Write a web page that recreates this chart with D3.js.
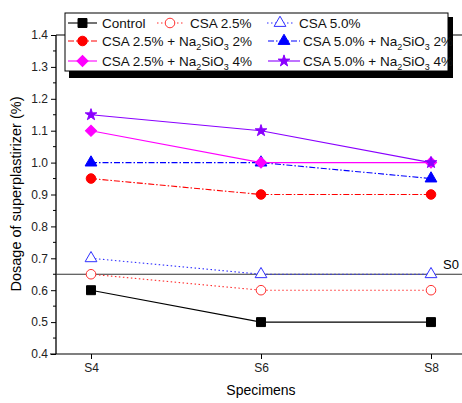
<!DOCTYPE html>
<html><head><meta charset="utf-8">
<script src="https://cdn.jsdelivr.net/npm/d3@7"></script>
<style>body{margin:0;background:#fff}svg{display:block;font-family:Arial,"Liberation Sans",sans-serif}</style>
</head><body><svg id="c" width="462" height="403"></svg>
<script>
const specimens = ["S4","S6","S8"];
const control = [0.6,0.5,0.5];
const csa25 = [0.65,0.6,0.6];
const csa50 = [0.7,0.65,0.65];
const csa25na2 = [0.95,0.9,0.9];
const csa50na2 = [1.0,1.0,0.95];
const csa25na4 = [1.1,1.0,1.0];
const csa50na4 = [1.15,1.1,1.0];
const s0Value = 0.65;
const yTicks = [0.4,0.5,0.6,0.7,0.8,0.9,1.0,1.1,1.2,1.3,1.4];

const series = [
 {name:"Control", vals:control, color:"#000", dash:null, sym:"square", fill:true},
 {name:"CSA 2.5%", vals:csa25, color:"#ff3030", dash:"1.5,2.5", sym:"circle", fill:false},
 {name:"CSA 5.0%", vals:csa50, color:"#3030ff", dash:"1.5,2.5", sym:"triangle", fill:false},
 {name:"CSA 2.5% + Na2SiO3 2%", vals:csa25na2, color:"#ff0000", dash:"6,2,1.5,2", sym:"circle", fill:true},
 {name:"CSA 5.0% + Na2SiO3 2%", vals:csa50na2, color:"#0000ff", dash:"6,2,1.5,2", sym:"triangle", fill:true},
 {name:"CSA 2.5% + Na2SiO3 4%", vals:csa25na4, color:"#ff00ff", dash:null, sym:"diamond", fill:true},
 {name:"CSA 5.0% + Na2SiO3 4%", vals:csa50na4, color:"#8a00ff", dash:null, sym:"star", fill:true}
];

const svg = d3.select("#c");
const pL=56, pR=466, pT=35, pB=354;
const x = d3.scalePoint().domain(specimens).range([91,431]);
const y = d3.scaleLinear().domain([0.4,1.4]).range([pB,pT]);

// frame
svg.append("line").attr("x1",pL).attr("x2",pR).attr("y1",pT).attr("y2",pT).attr("stroke","#000").attr("stroke-width",1.2);

// y axis
const ya = svg.append("g").attr("transform",`translate(${pL},0)`)
 .call(d3.axisLeft(y).tickValues(yTicks).tickFormat(d3.format(".1f")).tickSize(5).tickPadding(3));
const yminor = d3.range(0.45,1.4,0.1);
ya.selectAll(".minor").data(yminor).enter().append("line").attr("x1",-3).attr("x2",0)
 .attr("y1",d=>y(d)).attr("y2",d=>y(d)).attr("stroke","#000");
ya.select(".domain").attr("stroke-width",1.3).attr("d",`M0,${pT}V${pB}`);
ya.selectAll("text").attr("font-size",12).attr("fill","#222");

// x axis
const xa = svg.append("g").attr("transform",`translate(0,${pB})`)
 .call(d3.axisBottom(x).tickSize(5).tickPadding(4));
xa.select(".domain").attr("d",`M${pL-6},0H${pR}`).attr("stroke-width",1.2);
xa.selectAll("text").attr("font-size",12).attr("fill","#222");

svg.append("text").attr("x",261).attr("y",395).attr("text-anchor","middle").attr("font-size",14).text("Specimens");
svg.append("text").attr("transform","translate(21,194) rotate(-90)").attr("text-anchor","middle").attr("font-size",14.5).text("Dosage of superplastirizer (%)");

// S0 line
svg.append("line").attr("x1",pL).attr("x2",pR).attr("y1",y(s0Value)).attr("y2",y(s0Value)).attr("stroke","#333").attr("stroke-width",1.2);
svg.append("text").attr("x",443).attr("y",y(s0Value)-5).attr("font-size",13).text("S0");

function symbolPath(sym){
 const m={square:[d3.symbolSquare,80],circle:[d3.symbolCircle,72],triangle:[d3.symbolTriangle,60],diamond:[d3.symbolSquare,62],star:[d3.symbolStar,42]};
 return d3.symbol().type(m[sym][0]).size(m[sym][1])();
}
function drawMarker(g,s,cx,cy){
 g.append("path").attr("d",symbolPath(s.sym)).attr("transform",`translate(${cx},${cy})${s.sym==="diamond"?" rotate(45)":""}`)
  .attr("fill",s.fill?s.color:"#fff").attr("stroke",s.color).attr("stroke-width",1);
}
const line = d3.line().x((d,i)=>x(specimens[i])).y(d=>y(d));
series.forEach(s=>{
 svg.append("path").attr("d",line(s.vals)).attr("fill","none").attr("stroke",s.color).attr("stroke-width",1.1)
  .attr("stroke-dasharray",s.dash);
});
series.forEach(s=>{
 const g=svg.append("g");
 s.vals.forEach((v,i)=>drawMarker(g,s,x(specimens[i]),y(v)));
});

// legend
const lg = svg.append("g");
lg.append("rect").attr("x",69).attr("y",17).attr("width",384).attr("height",61).attr("fill","#000");
lg.append("rect").attr("x",65).attr("y",13).attr("width",383).attr("height",58).attr("fill","#fff").attr("stroke","#000").attr("stroke-width",1);
const pos = [
 [68,97,23,102],[157,183,23,190],[267,293,23,299],
 [68,97,41,102],[268,300,41,303],
 [68,97,61,102],[268,300,61,303]
];
series.forEach((s,i)=>{
 const [x1,x2,yy,tx]=pos[i];
 lg.append("line").attr("x1",x1).attr("x2",x2).attr("y1",yy).attr("y2",yy).attr("stroke",s.color).attr("stroke-width",1.1).attr("stroke-dasharray",s.dash);
 drawMarker(lg,s,(x1+x2)/2,yy);
 const t=lg.append("text").attr("x",tx).attr("y",yy+5).attr("font-size",13.5).attr("fill","#111");
 const m=s.name.match(/^(.*Na)2(SiO)3(.*)$/);
 if(m){
  t.append("tspan").text(m[1]);
  t.append("tspan").attr("dy",4).attr("font-size",9).text("2");
  t.append("tspan").attr("dy",-4).text(m[2]);
  t.append("tspan").attr("dy",4).attr("font-size",9).text("3");
  t.append("tspan").attr("dy",-4).text(m[3]);
 } else t.text(s.name);
});
</script></body></html>
